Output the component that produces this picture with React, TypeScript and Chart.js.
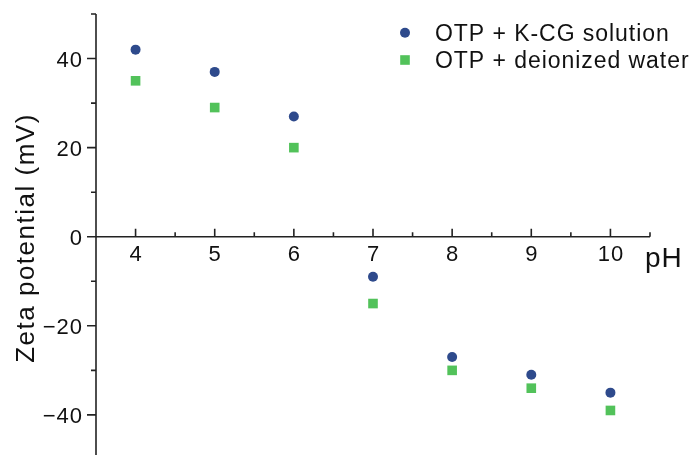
import React, { useEffect, useRef } from "react";
import { Chart, registerables } from "chart.js";

Chart.register(...registerables);

const phValues = [4, 5, 6, 7, 8, 9, 10];
const kcgZeta = [42, 37, 27, -9, -27, -31, -35];
const waterZeta = [35, 29, 20, -15, -30, -34, -39];
const seriesLabels = ["OTP + K-CG solution", "OTP + deionized water"];
const seriesColors = ["#2E4A8C", "#52C25A"];
const xMajorTicks = [4, 5, 6, 7, 8, 9, 10];
const xMinorTicks = [4.5, 5.5, 6.5, 7.5, 8.5, 9.5, 10.5];
const yMajorTicks = [40, 20, 0, -20, -40];
const yMinorTicks = [50, 30, 10, -10, -30];
const xAxisTitle = "pH";
const yAxisTitle = "Zeta potential (mV)";

const FONT = '"Liberation Sans", Arial, Helvetica, sans-serif';

function fmt(v: number): string {
  return v < 0 ? "\u2212" + Math.abs(v) : String(v);
}

const axesPlugin = {
  id: "customAxes",
  afterDatasetsDraw(chart: any) {
    const { ctx, chartArea } = chart;
    const xs = chart.scales.x;
    const ys = chart.scales.y;
    const ax = xs.getPixelForValue(3.5);
    const y0 = ys.getPixelForValue(0);
    ctx.save();
    ctx.strokeStyle = "#222";
    ctx.fillStyle = "#222";
    ctx.lineWidth = 1.6;
    // axis lines
    ctx.beginPath();
    ctx.moveTo(ax, chartArea.top);
    ctx.lineTo(ax, chartArea.bottom + 4);
    ctx.moveTo(ax, y0);
    ctx.lineTo(xs.getPixelForValue(10.5), y0);
    // y ticks (outward, left)
    yMajorTicks.forEach((v) => {
      const p = ys.getPixelForValue(v);
      ctx.moveTo(ax - 9, p);
      ctx.lineTo(ax, p);
    });
    yMinorTicks.forEach((v) => {
      const p = ys.getPixelForValue(v);
      ctx.moveTo(ax - 5, p);
      ctx.lineTo(ax, p);
    });
    // x ticks (upward)
    xMajorTicks.forEach((v) => {
      const p = xs.getPixelForValue(v);
      ctx.moveTo(p, y0 - 8);
      ctx.lineTo(p, y0);
    });
    xMinorTicks.forEach((v) => {
      const p = xs.getPixelForValue(v);
      ctx.moveTo(p, y0 - 4.5);
      ctx.lineTo(p, y0);
    });
    ctx.stroke();

    // tick labels
    ctx.fillStyle = "#111";
    ctx.font = `22px ${FONT}`;
    (ctx as any).letterSpacing = "1px";
    ctx.textBaseline = "alphabetic";
    ctx.textAlign = "right";
    yMajorTicks.forEach((v) => {
      const p = ys.getPixelForValue(v);
      ctx.fillText(fmt(v), ax - 13, p + 8);
    });
    ctx.textAlign = "center";
    xMajorTicks.forEach((v) => {
      const p = xs.getPixelForValue(v);
      ctx.fillText(fmt(v), p + 0.5, y0 + 24);
    });

    // x title
    ctx.font = `28px ${FONT}`;
    (ctx as any).letterSpacing = "1px";
    ctx.textAlign = "left";
    ctx.fillText(xAxisTitle, 645, y0 + 30);

    // y title
    ctx.save();
    ctx.translate(33.5, 238);
    ctx.rotate(-Math.PI / 2);
    ctx.font = `26px ${FONT}`;
    (ctx as any).letterSpacing = "1.5px";
    ctx.textAlign = "center";
    ctx.fillText(yAxisTitle, 0, 0);
    ctx.restore();

    // legend
    ctx.font = `23px ${FONT}`;
    (ctx as any).letterSpacing = "0.95px";
    ctx.textAlign = "left";
    const lx = 405;
    const rows = [32.7, 60];
    ctx.fillStyle = seriesColors[0];
    ctx.beginPath();
    ctx.arc(lx, rows[0], 5, 0, Math.PI * 2);
    ctx.fill();
    ctx.fillStyle = seriesColors[1];
    ctx.fillRect(lx - 4.8, rows[1] - 4.8, 9.6, 9.6);
    ctx.fillStyle = "#111";
    ctx.fillText(seriesLabels[0], 435, 40.7);
    ctx.fillText(seriesLabels[1], 435, 68.3);
    ctx.restore();
  },
};

export default function App() {
  const canvasRef = useRef<HTMLCanvasElement>(null);

  useEffect(() => {
    if (!canvasRef.current) return;
    const chart = new Chart(canvasRef.current, {
      type: "scatter",
      data: {
        datasets: [
          {
            label: seriesLabels[0],
            data: phValues.map((x, i) => ({ x, y: kcgZeta[i] })),
            backgroundColor: seriesColors[0],
            borderColor: seriesColors[0],
            borderWidth: 0,
            pointStyle: "circle",
            pointRadius: 5,
            pointHoverRadius: 5,
          },
          {
            label: seriesLabels[1],
            data: phValues.map((x, i) => ({ x, y: waterZeta[i] })),
            backgroundColor: seriesColors[1],
            borderColor: seriesColors[1],
            borderWidth: 0,
            pointStyle: "rect",
            pointRadius: 6.8,
            pointHoverRadius: 6.8,
          },
        ],
      },
      options: {
        responsive: true,
        maintainAspectRatio: false,
        animation: false,
        layout: { autoPadding: false, padding: { left: 96, right: 44, top: 14, bottom: 0 } },
        plugins: {
          legend: { display: false },
          tooltip: { enabled: false },
        },
        scales: {
          x: { type: "linear", min: 3.5, max: 10.5, display: false },
          y: { type: "linear", min: -49, max: 50, display: false },
        },
      },
      plugins: [axesPlugin],
    });
    return () => chart.destroy();
  }, []);

  return (
    <div style={{ position: "fixed", left: 0, top: 0, width: 694, height: 455, background: "#fff" }}>
      <canvas ref={canvasRef} />
    </div>
  );
}
